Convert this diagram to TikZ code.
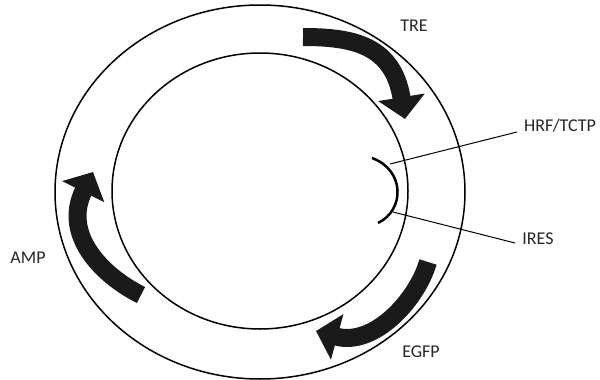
\documentclass[tikz,border=0pt]{standalone}
\usepackage{fontspec}
\setmainfont{Carlito}
\usetikzlibrary{arrows.meta,shapes.geometric}
\definecolor{arrowfill}{HTML}{1A1A1A}
\definecolor{textgray}{HTML}{262626}
\tikzset{
  ring/.style={draw=black, line width=1.5pt},
  bigarrow/.style={draw=arrowfill, line width=18pt,
    -{Triangle[length=22pt,width=46pt]}},
  txt/.style={font=\fontsize{18}{20}\selectfont, text=textgray, inner sep=0pt},
  leader/.style={draw=black, line width=1pt},
  iresarc/.style={draw=black, line width=2.5pt}
}
\begin{document}
\begin{tikzpicture}[x=1pt,y=-1pt]
\useasboundingbox (0,0) rectangle (600,380);
% rings
\node[ring, ellipse, minimum width=410pt, minimum height=374pt, inner sep=0pt] (outer) at (260,192) {};
\node[ring, ellipse, minimum width=296pt, minimum height=276pt, inner sep=0pt] (inner) at (260,191) {};
% IRES arc
\coordinate (arcA) at (372,158);
\coordinate (arcB) at (378,223);
\draw[iresarc] (arcA) .. controls (405,170) and (405,210) .. (arcB);
% big arrows
\coordinate (treS) at (303,37);
\coordinate (treE) at (405,119);
\draw[bigarrow] (treS) .. controls (353,37) and (393,45) .. (treE);
\coordinate (ampS) at (141,295);
\coordinate (ampE) at (93,172);
\draw[bigarrow] (ampS) .. controls (101,275) and (62,234) .. (ampE);
\coordinate (egS) at (428,262);
\coordinate (egE) at (316,331);
\draw[bigarrow] (egS) .. controls (417,300) and (374,347) .. (egE);
% labels
\node[txt] (tre) at (414,26) {TRE};
\node[txt] (hrf) at (560,126) {HRF/TCTP};
\node[txt] (ires) at (538,239) {IRES};
\node[txt] (amp) at (28,258) {AMP};
\node[txt] (egfp) at (421,352) {EGFP};
% leader lines
\coordinate (hrfP) at (390,164);
\coordinate (hrfQ) at (517,132);
\coordinate (iresP) at (393,212);
\coordinate (iresQ) at (515,243);
\draw[leader] (hrfP) -- (hrfQ);
\draw[leader] (iresP) -- (iresQ);
\end{tikzpicture}
\end{document}
